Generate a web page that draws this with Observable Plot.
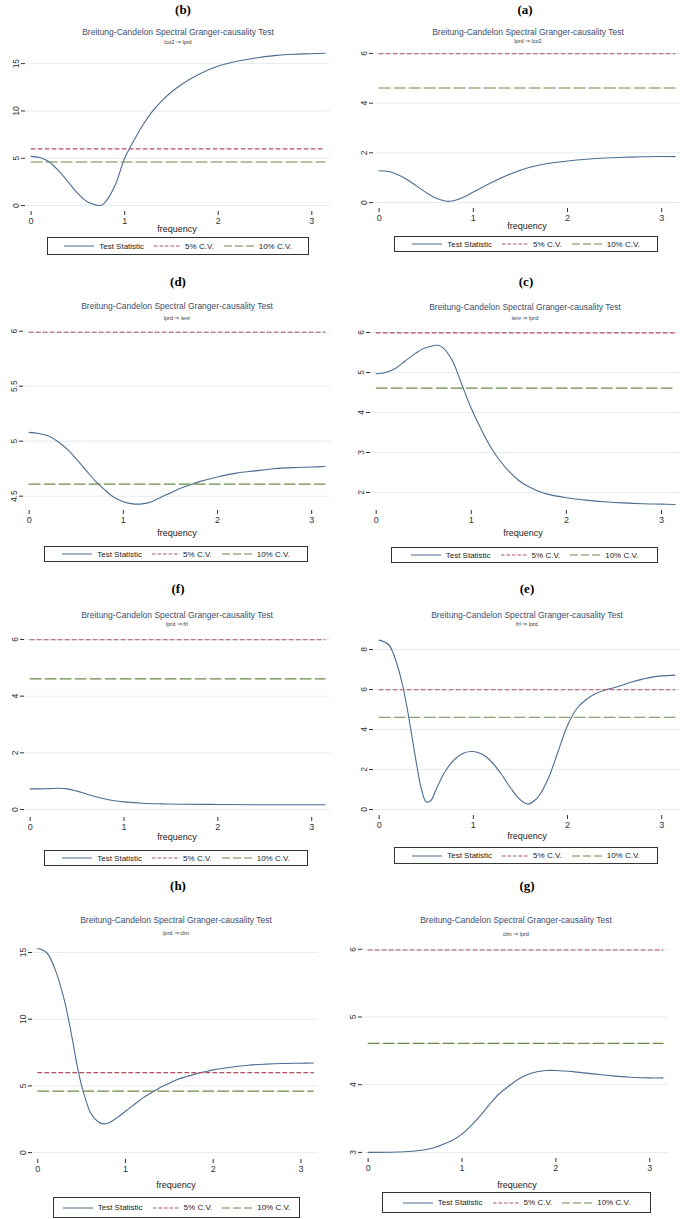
<!DOCTYPE html>
<html><head><meta charset="utf-8">
<script src="https://cdn.jsdelivr.net/npm/d3@7"></script>
<script src="https://cdn.jsdelivr.net/npm/@observablehq/plot@0.6"></script>
<style>
body{margin:0;background:#fff;font-family:"Liberation Sans",Arial,sans-serif;}
#root{position:relative;width:685px;height:1219px;overflow:hidden;background:#fff;}
.abs{position:absolute;}
.c{transform:translate(-50%,-50%);white-space:nowrap;line-height:1;}
.plabel{font-family:"Liberation Serif","Times New Roman",serif;font-weight:bold;font-size:13px;color:#000;}
.title{font-size:8.5px;color:#3b4e6e;}
.sub{font-size:5.5px;color:#333;}
.xlab{font-size:9px;color:#222;}
.legend{border:1px solid #333;display:flex;align-items:center;justify-content:center;font-size:8px;color:#222;box-sizing:border-box;background:#fff;white-space:nowrap;}
.legend .it{display:flex;align-items:center;margin:0 5px;}
.legend svg{margin-right:5px;}
</style></head>
<body><div id="root"></div>
<script>
// ---- data ----
const cv5 = 5.99;
const cv10 = 4.61;
const cvFreq = [0, 3.1416];
const seriesNames = ["Test Statistic", "5% C.V.", "10% C.V."];
const panelLabels = ["(b)", "(a)", "(d)", "(c)", "(f)", "(e)", "(h)", "(g)"];
const chartTitle = "Breitung-Candelon Spectral Granger-causality Test";
const subtitles = ["lco2 ⇒ lprd", "lprd ⇒ lco2", "lprd ⇒ lenr", "lenr ⇒ lprd", "lprd ⇒ frl", "frl ⇒ lprd", "lprd ⇒ clm", "clm ⇒ lprd"];
const xTicks = [0, 1, 2, 3];
const xAxisLabel = "frequency";

// (b) lco2 => lprd
const freqB = [0, 0.1, 0.2, 0.3, 0.4, 0.5, 0.6, 0.7, 0.75, 0.8, 0.9, 1.0, 1.1, 1.2, 1.3, 1.4, 1.5, 1.6, 1.8, 2.0, 2.2, 2.4, 2.6, 2.8, 3.0, 3.1416];
const statB = [5.2, 5.05, 4.58, 3.6, 2.45, 1.25, 0.4, 0.04, 0.03, 0.45, 2.2, 5.0, 6.9, 8.6, 10.0, 11.1, 12.0, 12.75, 13.9, 14.75, 15.25, 15.6, 15.85, 16.0, 16.05, 16.1];
const yTicksB = [0, 5, 10, 15];
// (a) lprd => lco2
const freqA = [0, 0.1, 0.2, 0.3, 0.4, 0.5, 0.6, 0.7, 0.75, 0.8, 0.9, 1.0, 1.2, 1.4, 1.6, 1.8, 2.0, 2.2, 2.4, 2.6, 2.8, 3.0, 3.1416];
const statA = [1.28, 1.25, 1.12, 0.92, 0.66, 0.4, 0.18, 0.06, 0.05, 0.08, 0.22, 0.42, 0.82, 1.16, 1.42, 1.58, 1.67, 1.74, 1.79, 1.82, 1.84, 1.85, 1.85];
const yTicksA = [0, 2, 4, 6];
// (d) lprd => lenr
const freqD = [0, 0.1, 0.2, 0.3, 0.4, 0.5, 0.6, 0.7, 0.8, 0.9, 1.0, 1.1, 1.2, 1.3, 1.4, 1.5, 1.6, 1.7, 1.8, 2.0, 2.2, 2.4, 2.6, 2.8, 3.0, 3.1416];
const statD = [5.08, 5.07, 5.05, 5.0, 4.93, 4.84, 4.74, 4.64, 4.56, 4.49, 4.45, 4.43, 4.43, 4.45, 4.49, 4.53, 4.57, 4.6, 4.63, 4.675, 4.71, 4.73, 4.75, 4.76, 4.765, 4.77];
const yTicksD = [4.5, 5, 5.5, 6];
// (c) lenr => lprd
const freqC = [0, 0.1, 0.2, 0.3, 0.4, 0.5, 0.6, 0.65, 0.7, 0.8, 0.9, 1.0, 1.1, 1.2, 1.3, 1.4, 1.5, 1.6, 1.7, 1.8, 2.0, 2.2, 2.4, 2.6, 2.8, 3.0, 3.1416];
const statC = [4.97, 5.0, 5.1, 5.28, 5.46, 5.6, 5.67, 5.68, 5.62, 5.3, 4.7, 4.1, 3.6, 3.15, 2.8, 2.52, 2.3, 2.15, 2.04, 1.96, 1.87, 1.81, 1.77, 1.74, 1.72, 1.71, 1.7];
const yTicksC = [2, 3, 4, 5, 6];
// (f) lprd => frl
const freqF = [0, 0.1, 0.2, 0.3, 0.4, 0.5, 0.6, 0.7, 0.8, 0.9, 1.0, 1.2, 1.4, 1.6, 2.0, 2.5, 3.1416];
const statF = [0.73, 0.73, 0.74, 0.75, 0.73, 0.65, 0.55, 0.45, 0.37, 0.31, 0.27, 0.22, 0.2, 0.19, 0.18, 0.17, 0.17];
const yTicksF = [0, 2, 4, 6];
// (e) frl => lprd
const freqE = [0, 0.1, 0.15, 0.2, 0.25, 0.3, 0.35, 0.4, 0.45, 0.5, 0.55, 0.6, 0.7, 0.8, 0.9, 1.0, 1.1, 1.2, 1.3, 1.4, 1.5, 1.58, 1.65, 1.7, 1.8, 1.9, 2.0, 2.1, 2.2, 2.3, 2.4, 2.5, 2.6, 2.7, 2.8, 2.9, 3.0, 3.1416];
const statE = [8.47, 8.25, 7.8, 7.1, 6.2, 5.0, 3.6, 2.2, 1.0, 0.38, 0.45, 0.95, 1.9, 2.5, 2.83, 2.9, 2.75, 2.35, 1.75, 1.05, 0.48, 0.27, 0.45, 0.7, 1.6, 2.9, 4.2, 5.05, 5.5, 5.8, 5.98, 6.1, 6.25, 6.4, 6.52, 6.62, 6.68, 6.72];
const yTicksE = [0, 2, 4, 6, 8];
// (h) lprd => clm
const freqH = [0, 0.1, 0.2, 0.3, 0.35, 0.4, 0.45, 0.5, 0.55, 0.6, 0.7, 0.75, 0.8, 0.9, 1.0, 1.1, 1.2, 1.3, 1.4, 1.5, 1.6, 1.7, 1.8, 1.9, 2.0, 2.2, 2.4, 2.6, 2.8, 3.0, 3.1416];
const statH = [15.3, 15.0, 13.7, 11.5, 10.0, 8.3, 6.5, 5.0, 3.9, 3.0, 2.25, 2.15, 2.2, 2.6, 3.1, 3.6, 4.1, 4.5, 4.9, 5.2, 5.5, 5.7, 5.9, 6.05, 6.2, 6.4, 6.55, 6.63, 6.68, 6.7, 6.72];
const yTicksH = [0, 5, 10, 15];
// (g) clm => lprd
const freqG = [0, 0.3, 0.5, 0.7, 0.8, 0.9, 1.0, 1.1, 1.2, 1.3, 1.4, 1.5, 1.6, 1.7, 1.8, 1.9, 2.0, 2.2, 2.4, 2.6, 2.8, 3.0, 3.1416];
const statG = [3.0, 3.005, 3.02, 3.07, 3.12, 3.18, 3.27, 3.4, 3.55, 3.72, 3.87, 3.98, 4.08, 4.15, 4.19, 4.21, 4.21, 4.19, 4.16, 4.13, 4.11, 4.1, 4.1];
const yTicksG = [3, 4, 5, 6];

const panelData = [
  [freqB, statB, yTicksB], [freqA, statA, yTicksA],
  [freqD, statD, yTicksD], [freqC, statC, yTicksC],
  [freqF, statF, yTicksF], [freqE, statE, yTicksE],
  [freqH, statH, yTicksH], [freqG, statG, yTicksG]
];

// ---- layout (positions / scale extents) ----
const layout = [
  {col:0,   lab:[183,9],   title:[178,32],  sub:[178,42.5], left:25,  right:330, top:48,  bottom:211,  yDomain:[-0.63,16.6],  xl:[177,229],  leg:[47,237,262,18]},
  {col:340, lab:[525,9],   title:[528,32],  sub:[528,41.5], left:373, right:680, top:48,  bottom:208,  yDomain:[-0.24,6.2],   xl:[527,226],  leg:[394,236,264,16]},
  {col:0,   lab:[178,281], title:[177,306], sub:[177,319],  left:23,  right:330, top:323, bottom:510,  yDomain:[4.37,6.07],   xl:[177,533],  leg:[44,546,264,16]},
  {col:340, lab:[526,281], title:[525,307], sub:[525,319],  left:370, right:680, top:324, bottom:510,  yDomain:[1.55,6.2],    xl:[523,533],  leg:[391,547,267,16]},
  {col:0,   lab:[178,588], title:[177,615], sub:[177,625],  left:24,  right:330, top:633, bottom:817,  yDomain:[-0.28,6.21],  xl:[177,837],  leg:[44,850,264,16]},
  {col:340, lab:[527,588], title:[527,615], sub:[527,625],  left:373, right:680, top:633, bottom:815,  yDomain:[-0.3,8.8],    xl:[527,836],  leg:[394,847,264,17]},
  {col:0,   lab:[178,885], title:[176,920], sub:[176,934],  left:32,  right:318, top:942, bottom:1159, yDomain:[-0.52,15.75], xl:[176,1185], leg:[53,1197,247,21]},
  {col:340, lab:[527,885], title:[516,920], sub:[516,935],  left:362, right:668, top:942, bottom:1158, yDomain:[2.91,6.1],    xl:[517,1185], leg:[382,1192,269,21]}
];
const xDomain = [-0.06, 3.2];
const colors = {stat:"#4a6d92", cv5:"#b0505c", cv10:"#6b8a48", grid:"#e3edf0", axis:"#333"};
const dash5 = "4,3", dash10 = "11,4";

const root = document.getElementById("root");
function addText(cls, text, [x, y]) {
  const d = document.createElement("div");
  d.className = "abs c " + cls;
  d.style.left = x + "px"; d.style.top = y + "px";
  d.textContent = text;
  root.appendChild(d);
}
function sample(w, color, dash) {
  return `<svg width="${w}" height="6"><line x1="0" y1="3" x2="${w}" y2="3" stroke="${color}" stroke-width="1"${dash ? ` stroke-dasharray="${dash}"` : ""}/></svg>`;
}
function addLegend([x, y, w, h]) {
  const d = document.createElement("div");
  d.className = "abs legend";
  Object.assign(d.style, {left: x + "px", top: y + "px", width: w + "px", height: h + "px"});
  d.innerHTML =
    `<span class="it">${sample(30, colors.stat)}<span>${seriesNames[0]}</span></span>` +
    `<span class="it">${sample(26, colors.cv5, "3.5,2")}<span>${seriesNames[1]}</span></span>` +
    `<span class="it">${sample(30, colors.cv10, "8,3")}<span>${seriesNames[2]}</span></span>`;
  root.appendChild(d);
}

layout.forEach((p, i) => {
  const [freq, stat, yTicks] = panelData[i];
  const W = 345, mt = 4, mb = 24;
  const rows = freq.map((f, j) => ({f, v: stat[j]}));
  const cvRows = (val) => cvFreq.map(f => ({f, v: val}));
  const svg = Plot.plot({
    width: W,
    height: p.bottom - p.top + mt + mb,
    marginLeft: p.left - p.col,
    marginRight: p.col + W - p.right,
    marginTop: mt,
    marginBottom: mb,
    x: {domain: xDomain},
    y: {domain: p.yDomain},
    style: {fontFamily: "'Liberation Sans', Arial, sans-serif", background: "transparent", overflow: "visible"},
    marks: [
      Plot.gridY(yTicks, {stroke: colors.grid, strokeOpacity: 1, strokeWidth: 1}),
      Plot.line(rows, {x: "f", y: "v", stroke: colors.stat, strokeWidth: 1.1, curve: "catmull-rom"}),
      Plot.line(cvRows(cv5), {x: "f", y: "v", stroke: colors.cv5, strokeWidth: 1.1, strokeDasharray: dash5}),
      Plot.line(cvRows(cv10), {x: "f", y: "v", stroke: colors.cv10, strokeWidth: 1.1, strokeDasharray: dash10}),
      Plot.axisX(xTicks, {line: true, tickSize: 4, tickPadding: 2, fontSize: 9, color: colors.axis, label: null}),
      Plot.axisY(yTicks, {line: true, tickSize: 4, tickPadding: 3, tickRotate: -90, fontSize: 8.5, color: colors.axis, label: null,
        tickFormat: d => String(d)})
    ]
  });
  svg.style.position = "absolute";
  svg.style.left = p.col + "px";
  svg.style.top = (p.top - mt) + "px";
  root.appendChild(svg);

  addText("plabel", panelLabels[i], p.lab);
  addText("title", chartTitle, p.title);
  addText("sub", subtitles[i], p.sub);
  addText("xlab", xAxisLabel, p.xl);
  addLegend(p.leg);
});
</script>
</body></html>
